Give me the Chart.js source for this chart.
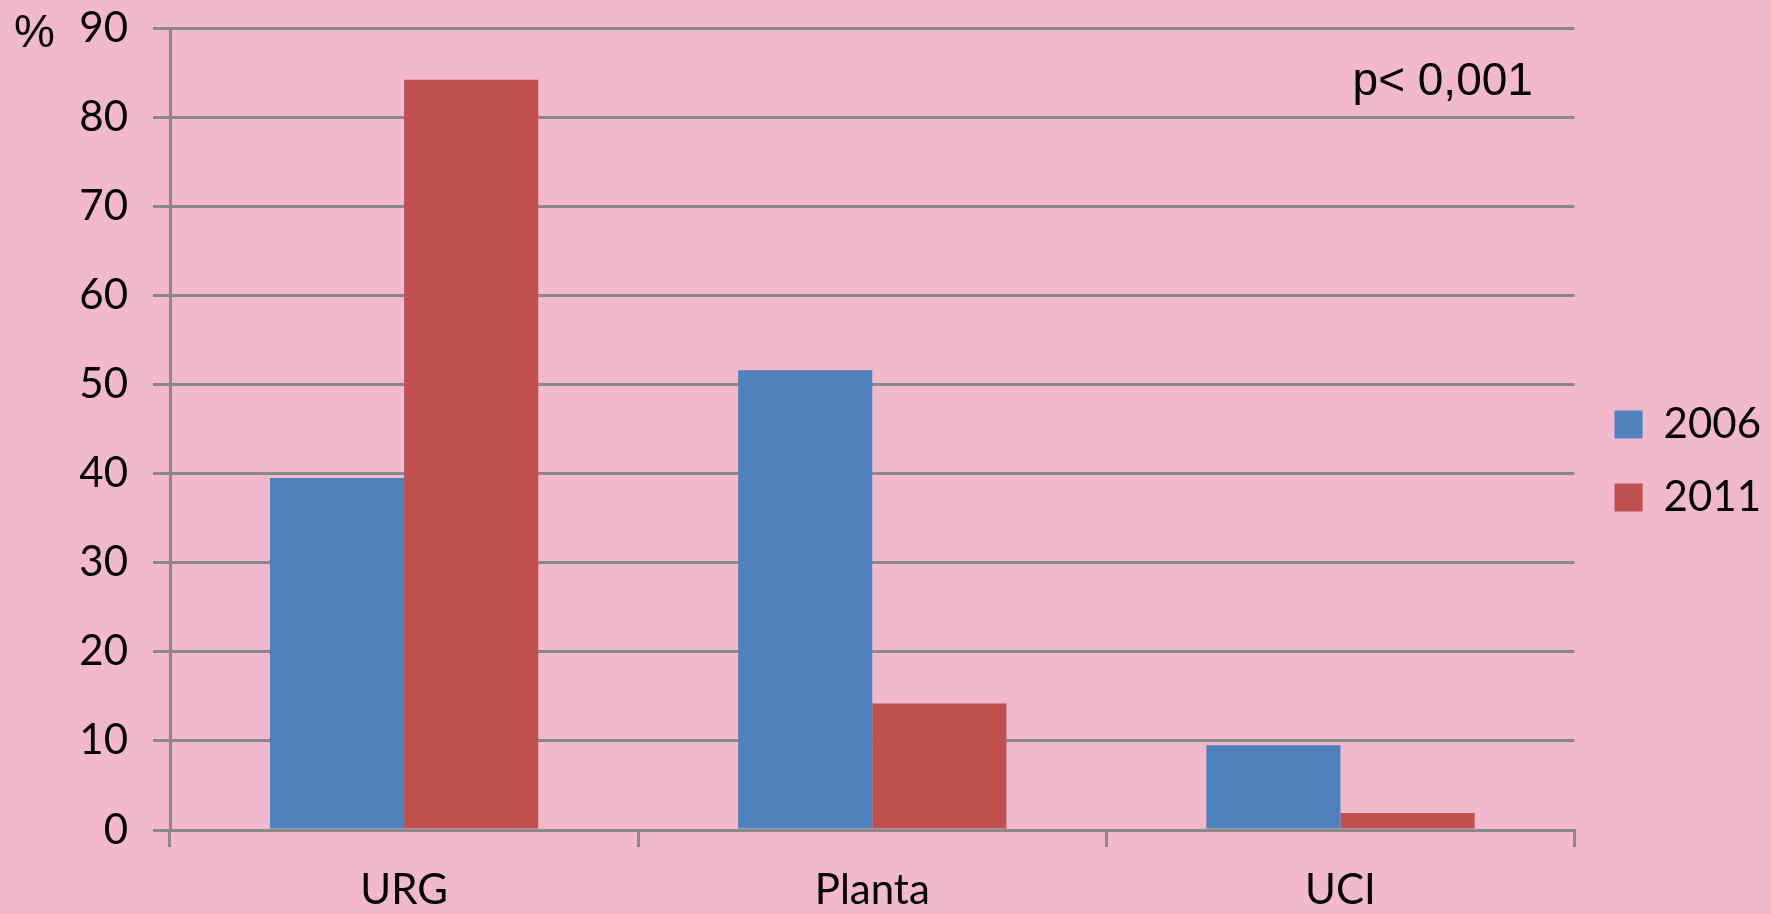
<!DOCTYPE html>
<html><head><meta charset="utf-8">
<script src="https://cdn.jsdelivr.net/npm/chart.js@4/dist/chart.umd.min.js"></script>
<style>html,body{margin:0;padding:0;background:rgb(242,185,204);overflow:hidden}</style>
</head><body>
<canvas id="c" width="1771" height="914"></canvas>
<script>
const categories = ['URG', 'Planta', 'UCI'];
const seriesNames = ['2006', '2011'];
const values2006 = [39.5, 51.6, 9.5];
const values2011 = [84.2, 14.2, 1.9];
const yMin = 0, yMax = 90, yStep = 10;
const yUnit = '%';
const pText = 'p< 0,001';

const bg = 'rgb(242,185,204)';
const gridColor = '#898989';
const baseFont = 'Lato';

const bgPlugin = {
  id: 'bg',
  beforeDraw(chart) {
    const {ctx, width, height} = chart;
    ctx.save(); ctx.fillStyle = bg; ctx.fillRect(0, 0, width, height); ctx.restore();
  }
};
const textPlugin = {
  id: 'texts',
  afterDraw(chart) {
    const {ctx, chartArea} = chart;
    ctx.save();
    ctx.fillStyle = '#000';
    ctx.textBaseline = 'alphabetic';
    ctx.textAlign = 'left';
    ctx.font = '46px "Liberation Sans"';
    ctx.fillText(yUnit, chartArea.left - 156, chartArea.top + 19);
    ctx.fillText(pText, chartArea.right - 222, chartArea.top + 67);
    ctx.restore();
  }
};

new Chart(document.getElementById('c'), {
  type: 'bar',
  data: {
    labels: categories,
    datasets: [
      {label: seriesNames[0], data: values2006, backgroundColor: '#4F81BD', borderWidth: 0},
      {label: seriesNames[1], data: values2011, backgroundColor: '#C0504D', borderWidth: 0}
    ]
  },
  options: {
    responsive: false,
    animation: false,
    devicePixelRatio: 1,
    layout: {padding: {top: 28, right: 0, bottom: 0, left: 0}},
    datasets: {bar: {barPercentage: 1, categoryPercentage: 0.573}},
    plugins: {
      legend: {
        position: 'right',
        fullSize: false,
        title: {display: true, text: ' ', padding: 0, font: {size: 10, lineHeight: 6.4}},
        labels: {boxWidth: 28, boxHeight: 28, padding: 31, color: '#000', font: {family: baseFont, size: 42}}
      },
      tooltip: {enabled: false},
      title: {display: false}
    },
    scales: {
      x: {
        grid: {display: true, offset: true, drawOnChartArea: false, drawTicks: true, tickLength: 17, color: gridColor, lineWidth: 3},
        border: {display: true, color: gridColor, width: 3},
        ticks: {color: '#000', padding: 18, font: {family: baseFont, size: 42}},
        afterFit(s) { s.height = 84; s.paddingLeft = 0; s.paddingRight = 0; }
      },
      y: {
        min: yMin, max: yMax,
        grid: {color: gridColor, lineWidth: 3, tickLength: 17, drawTicks: true},
        border: {display: true, color: gridColor, width: 3},
        ticks: {stepSize: yStep, color: '#000', padding: 25, font: {family: baseFont, size: 42}},
        afterFit(s) { s.width = 170; s.paddingTop = 0; s.paddingBottom = 0; }
      },
      y2: {
        position: 'right',
        display: true,
        grid: {display: false},
        border: {display: false},
        ticks: {display: false},
        afterFit(s) { s.width = 9; s.paddingTop = 0; s.paddingBottom = 0; }
      }
    }
  },
  plugins: [bgPlugin, textPlugin]
});
</script>
</body></html>
